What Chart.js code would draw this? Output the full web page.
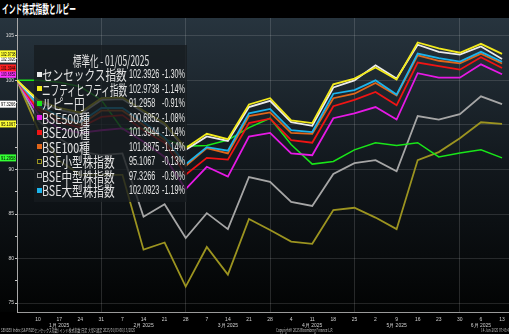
<!DOCTYPE html>
<html>
<head>
<meta charset="utf-8">
<script src="https://cdn.jsdelivr.net/npm/chart.js@4.4.1/dist/chart.umd.min.js"></script>
<style>
html, body { margin: 0; padding: 0; background: #000; }
#wrap { position: relative; width: 509px; height: 334px; overflow: hidden; background: #000; }
#chart { position: absolute; left: 0; top: 0; }
#head { position: absolute; left: 0; top: 0; width: 509px; height: 18px; background: #000; }
#head span { position: absolute; left: 2px; top: 1px; color: #fff; font: bold 12px 'Noto Sans CJK JP'; line-height: 16px;
  transform: scaleX(0.56); transform-origin: 0 50%; white-space: nowrap; }
#legend { position: absolute; left: 34px; top: 45px; width: 153px; height: 157px; background: rgba(22, 27, 31, 0.8); }
#legend .t { position: absolute; white-space: nowrap; transform-origin: 0 50%; color: #e4e4e4; height: 16px; line-height: 16px; }
#legend .cjk { font-family: 'Noto Sans CJK JP'; font-size: 14px; }
#legend .num { font-family: 'Liberation Sans'; font-size: 13px; transform: scaleX(0.56); }
#legend .mk { position: absolute; width: 5px; height: 5px; box-sizing: border-box; }
.foot { position: absolute; top: 327px; color: #bdbdbd; font: 5px 'Noto Sans CJK JP'; line-height: 6px; white-space: nowrap;
  transform-origin: 0 50%; }
</style>
</head>
<body>
<div id="wrap">
  <canvas id="chart" width="509" height="334"></canvas>
  <div id="head"><span>インド株式指数とルピー</span></div>
  <div id="legend"></div>
  <div class="foot" style="left:1px;transform:scaleX(0.6)">SENSEX Index (S&amp;P BSEセンセックス指数) インド株式指数 日足 大型2 週足 2025/01/03-06/13/2025</div>
  <div class="foot" style="left:276px;transform:scaleX(0.6)">Copyright© 2025 Bloomberg Finance L.P.</div>
  <div class="foot" style="left:481px;transform:scaleX(0.6)">14-Jun-2025 07:43:41</div>
</div>
<script>
// weekly closes, normalised to 100 on the first week
const weeks = ['2025-01-03', '2025-01-10', '2025-01-17', '2025-01-24', '2025-01-31', '2025-02-07', '2025-02-14', '2025-02-21',
  '2025-02-28', '2025-03-07', '2025-03-14', '2025-03-21', '2025-03-28', '2025-04-04', '2025-04-11', '2025-04-18',
  '2025-04-25', '2025-05-02', '2025-05-09', '2025-05-16', '2025-05-23', '2025-05-30', '2025-06-06', '2025-06-13'];

const monthEnds = ['2025-01-31', '2025-02-28', '2025-03-28', '2025-04-25', '2025-05-30'];
const monthLabelWeeks = ['2025-01-17', '2025-02-14', '2025-03-14', '2025-04-11', '2025-05-09', '2025-06-06'];
const monthLabels = ['1月 2025', '2月 2025', '3月 2025', '4月 2025', '5月 2025', '6月 2025'];

const sensex = [100, 97.6, 96.7, 96.2, 97.8, 97.9, 96.4, 95.0, 92.2, 93.7, 93.2, 97.0, 97.7, 95.3, 94.9, 99.2, 100.0, 101.7, 100.2, 104.0, 103.2, 102.9, 103.8, 102.3926];
const nifty = [100, 97.8, 96.9, 96.4, 98.0, 98.1, 96.6, 95.2, 92.4, 94.0, 93.4, 97.3, 98.0, 95.5, 95.2, 99.55, 100.2, 101.45, 100.1, 104.25, 103.6, 103.1, 104.1, 102.9738];
const inrJpy = [100, 100.0, 99.8, 99.3, 97.8, 94.5, 94.6, 93.4, 92.6, 92.7, 93.3, 94.7, 95.75, 92.8, 90.6, 90.9, 92.2, 93.0, 92.7, 93.0, 91.4, 91.85, 92.2, 91.2958];
const bse500 = [100, 96.2, 94.6, 94.1, 94.4, 94.6, 93.1, 91.4, 87.8, 90.3, 89.2, 93.7, 94.1, 91.8, 91.6, 95.75, 96.3, 97.0, 95.6, 100.8, 100.3, 100.3, 101.8, 100.6852];
const bse200 = [100, 96.7, 95.3, 94.7, 95.9, 96.1, 94.4, 93.0, 89.4, 91.3, 91.1, 95.2, 95.7, 93.3, 93.0, 97.1, 97.8, 98.7, 97.2, 102.0, 101.6, 101.2, 102.6, 101.3944];
const bse100 = [100, 97.0, 95.8, 95.0, 96.6, 96.6, 95.0, 93.3, 90.4, 92.4, 91.8, 96.0, 96.4, 94.1, 94.0, 98.0, 98.5, 99.7, 98.3, 102.8, 102.2, 101.9, 103.0, 101.8875];
const bseSmall = [100, 94.5, 91.0, 89.4, 89.4, 89.4, 81.0, 81.8, 76.85, 81.3, 78.2, 84.45, 83.2, 81.9, 81.65, 85.45, 85.7, 84.6, 83.3, 91.05, 91.95, 93.5, 95.3, 95.1067];
const bseMid = [100, 95.5, 93.5, 92.0, 91.6, 91.8, 84.7, 86.1, 82.3, 85.1, 83.3, 89.15, 88.6, 86.35, 85.9, 89.5, 90.7, 91.05, 89.8, 96.0, 95.6, 96.2, 98.2, 97.3266];
const bseLarge = [100, 97.2, 96.0, 95.3, 96.9, 96.9, 95.3, 93.6, 90.6, 92.5, 92.1, 96.3, 96.8, 94.4, 94.2, 98.5, 98.9, 100.0, 98.4, 103.0, 102.5, 102.1, 103.2, 102.0923];

// legend order
const names = ['センセックス指数', 'ニフティヒフティ指数', 'ルピー円', 'BSE500種', 'BSE200種', 'BSE100種', 'BSE小型株指数', 'BSE中型株指数', 'BSE大型株指数'];
const seriesValues = [sensex, nifty, inrJpy, bse500, bse200, bse100, bseSmall, bseMid, bseLarge];
const dayChange = [-1.30, -1.14, -0.91, -1.08, -1.14, -1.14, -0.13, -0.90, -1.19];

// styling per series (same order)
const colors = ['#ececec', '#f3ea1c', '#19e619', '#e619e6', '#f01414', '#e0661a', '#9c9420', '#a6a6a6', '#1cb4ec'];
const tagColors = ['#ffffff', '#ffff33', '#33ff33', '#ff33ff', '#ff2222', null, '#ffff33', '#ffffff', null];
const drawOrder = [1, 0, 6, 5, 4, 3, 8, 7, 2];
const hollow = [false, false, false, false, false, false, true, true, false];

const datasets = names.map((n, i) => ({
  label: n,
  data: seriesValues[i].map((v, k) => ({ x: k, y: v })),
  borderColor: colors[i],
  borderWidth: i === 2 ? 1.5 : 1.8,
  pointRadius: 0,
  tension: 0,
  order: drawOrder[i]
}));

const background = {
  id: 'background',
  beforeDraw(chart) {
    const { ctx, chartArea } = chart;
    const g = ctx.createLinearGradient(0, chartArea.top, 0, chartArea.bottom);
    g.addColorStop(0, '#27343e');
    g.addColorStop(0.5, '#12181d');
    g.addColorStop(1, '#020303');
    ctx.save();
    ctx.fillStyle = g;
    ctx.fillRect(0, chartArea.top, chart.width, chartArea.bottom - chartArea.top);
    ctx.restore();
  }
};

// last-value tags on the left edge
const lastTags = {
  id: 'lastTags',
  afterDraw(chart) {
    const { ctx } = chart;
    const y = chart.scales.y;
    ctx.save();
    ctx.font = '5px "Liberation Sans"';
    ctx.textBaseline = 'middle';
    seriesValues.forEach((vals, i) => {
      if (!tagColors[i]) return;
      const last = vals[vals.length - 1];
      const py = y.getPixelForValue(last);
      ctx.fillStyle = tagColors[i];
      ctx.fillRect(0, py - 3.5, 16, 7);
      ctx.fillStyle = '#000';
      ctx.fillText(last.toFixed(4), 1, py + 0.5, 14.5);
    });
    ctx.restore();
  }
};

new Chart(document.getElementById('chart'), {
  type: 'line',
  data: { datasets },
  plugins: [background, lastTags],
  options: {
    responsive: false,
    animation: false,
    layout: { padding: { top: 18, left: 0, right: 0, bottom: 0 } },
    plugins: { legend: { display: false }, tooltip: { enabled: false } },
    scales: {
      x: {
        type: 'linear',
        min: 0,
        max: weeks.length - 1 + 0.33,
        afterBuildTicks: s => { s.ticks = weeks.map((w, i) => ({ value: i })); },
        afterFit: s => { s.height = 22; },
        ticks: {
          autoSkip: false,
          maxRotation: 0,
          padding: 2,
          color: '#cfcfcf',
          font: { size: 5, family: 'Liberation Sans', lineHeight: 1.3 },
          callback: v => {
            const w = weeks[v];
            if (!w || v === 0) return '';
            const day = String(parseInt(w.slice(8), 10));
            const m = monthLabelWeeks.indexOf(w);
            return m >= 0 ? [day, monthLabels[m]] : day;
          }
        },
        grid: {
          color: c => (c.tick && monthEnds.includes(weeks[c.tick.value])) ? 'rgba(255,255,255,0.14)' : 'transparent',
          tickColor: 'transparent',
          tickLength: 2,
          lineWidth: 1
        },
        border: { color: '#9a9a9a' }
      },
      y: {
        min: 74,
        max: 107,
        afterBuildTicks: s => {
          const t = [];
          for (let v = 75; v <= 105; v += 2.5) t.push({ value: v });
          s.ticks = t;
        },
        afterFit: s => { s.width = 17; },
        ticks: {
          padding: 1,
          color: '#dcdcdc',
          font: { size: 5, family: 'Liberation Sans' },
          callback: v => (v % 5 === 0 ? v : '')
        },
        grid: {
          color: c => (c.tick && c.tick.value % 5 === 0) ? 'rgba(255,255,255,0.13)' : 'transparent',
          tickColor: '#c8c8c8',
          tickLength: 2
        },
        border: { color: '#a8a8a8' }
      }
    }
  }
});

// legend panel
const legend = document.getElementById('legend');

// squeeze a text element horizontally so it stays within maxW pixels
function squeeze(el, k, maxW) {
  const w = el.offsetWidth;
  const s = Math.min(k, maxW / w);
  el.style.transform = 'scaleX(' + s + ')';
}

const title = document.createElement('div');
title.className = 't cjk';
title.style.left = '39px';
title.style.top = '7px';
title.textContent = '標準化 - 01/05/2025';
legend.appendChild(title);
squeeze(title, 0.7, 76);

names.forEach((n, i) => {
  const cy = 29 + i * 14.5;
  const vals = seriesValues[i];

  const mk = document.createElement('div');
  mk.className = 'mk';
  mk.style.left = '3px';
  mk.style.top = (cy - 2.5) + 'px';
  if (hollow[i]) mk.style.border = '1px solid ' + colors[i];
  else mk.style.background = colors[i];
  legend.appendChild(mk);

  const lab = document.createElement('div');
  lab.className = 't cjk';
  lab.style.left = '8px';
  lab.style.top = (cy - 8) + 'px';
  lab.textContent = n;
  legend.appendChild(lab);
  squeeze(lab, 0.76, 85);

  const val = document.createElement('div');
  val.className = 't num';
  val.style.left = '95px';
  val.style.top = (cy - 8) + 'px';
  val.textContent = vals[vals.length - 1].toFixed(4);
  legend.appendChild(val);

  const pct = document.createElement('div');
  pct.className = 't num';
  pct.style.left = '128px';
  pct.style.top = (cy - 8) + 'px';
  pct.textContent = dayChange[i].toFixed(2) + '%';
  legend.appendChild(pct);
});
</script>
</body>
</html>
